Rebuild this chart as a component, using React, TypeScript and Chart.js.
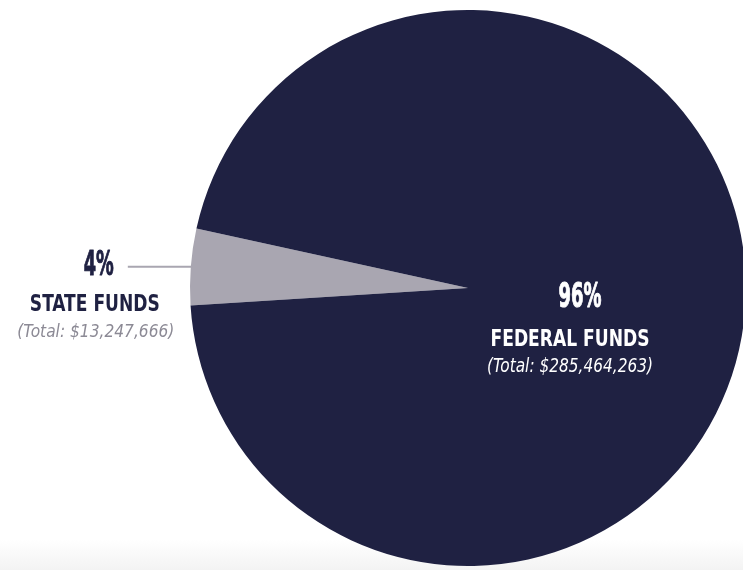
import React, { useEffect, useRef } from "react";
import { Chart, registerables } from "chart.js";

Chart.register(...registerables);

// ---- data ----
const categories = ["STATE FUNDS", "FEDERAL FUNDS"];
const fundTotals = [13247666, 285464263];
const percentLabels = ["4%", "96%"];
const totalLabels = ["(Total: $13,247,666)", "(Total: $285,464,263)"];
const sliceColors = ["#a9a6b1", "#1f2142"];

const NAVY = "#1f2142";
const GREY_TEXT = "#8c8a95";
const CONDENSED = '"Liberation Sans Narrow", "DejaVu Sans Condensed", "Noto Sans", sans-serif';

function fitText(
  ctx: CanvasRenderingContext2D,
  text: string,
  cx: number,
  baseline: number,
  font: string,
  color: string,
  width: number,
  stroke = 0
) {
  ctx.save();
  ctx.font = font;
  ctx.fillStyle = color;
  ctx.textAlign = "center";
  ctx.textBaseline = "alphabetic";
  const m = ctx.measureText(text).width || 1;
  const sx = width / m;
  ctx.translate(cx, baseline);
  ctx.scale(sx, 1);
  ctx.fillText(text, 0, 0);
  if (stroke > 0) {
    ctx.strokeStyle = color;
    ctx.lineWidth = stroke;
    ctx.lineJoin = "round";
    ctx.strokeText(text, 0, 0);
  }
  ctx.restore();
}

const labelPlugin = {
  id: "fundLabels",
  afterDatasetsDraw(chart: any) {
    const ctx: CanvasRenderingContext2D = chart.ctx;
    const meta = chart.getDatasetMeta(0);
    const stateArc = meta.data[0];
    const p = stateArc.getProps(["x", "y", "outerRadius", "startAngle", "endAngle"], true);
    const mid = (p.startAngle + p.endAngle) / 2;
    const ex = p.x + Math.cos(mid) * p.outerRadius;
    const ey = p.y + Math.sin(mid) * p.outerRadius;

    // leader line
    ctx.save();
    ctx.strokeStyle = sliceColors[0];
    ctx.lineWidth = 2;
    ctx.beginPath();
    ctx.moveTo(ex + 2, ey);
    ctx.lineTo(ex - 63, ey);
    ctx.stroke();
    ctx.restore();

    // state labels
    fitText(ctx, percentLabels[0], ex - 92, ey + 8, `bold 34px ${CONDENSED}`, NAVY, 30, 1);
    fitText(ctx, categories[0], ex - 96, ey + 44, `bold 23px ${CONDENSED}`, NAVY, 130);
    fitText(ctx, totalLabels[0], ex - 95, ey + 70, `italic 18px ${CONDENSED}`, GREY_TEXT, 157);

    // federal labels
    const cx = p.x;
    const cy = p.y;
    fitText(ctx, percentLabels[1], cx + 112, cy + 19, `bold 34px ${CONDENSED}`, "#ffffff", 43, 1);
    fitText(ctx, categories[1], cx + 102, cy + 58, `bold 23px ${CONDENSED}`, "#ffffff", 159);
    fitText(ctx, totalLabels[1], cx + 102, cy + 84, `italic 19px ${CONDENSED}`, "#ffffff", 166);
  },
};

export default function App() {
  const ref = useRef<HTMLCanvasElement | null>(null);

  useEffect(() => {
    if (!ref.current) return;
    const chart = new Chart(ref.current, {
      type: "pie",
      data: {
        labels: categories,
        datasets: [
          {
            data: fundTotals,
            backgroundColor: sliceColors,
            borderWidth: 0,
            hoverOffset: 0,
          },
        ],
      },
      options: {
        responsive: false,
        animation: false,
        rotation: 266.4,
        layout: { padding: { left: 190, right: 14, top: 10, bottom: 4 } },
        plugins: {
          legend: { display: false },
          tooltip: { enabled: false },
        },
        events: [],
      },
      plugins: [labelPlugin],
    });
    return () => chart.destroy();
  }, []);

  return (
    <div
      style={{
        position: "fixed",
        left: 0,
        top: 0,
        width: 743,
        height: 570,
        overflow: "hidden",
        background: "linear-gradient(to bottom, #ffffff 0px, #ffffff 540px, #f3f3f3 570px)",
      }}
    >
      <canvas ref={ref} width={760} height={570} style={{ width: 760, height: 570, display: "block" }} />
    </div>
  );
}
